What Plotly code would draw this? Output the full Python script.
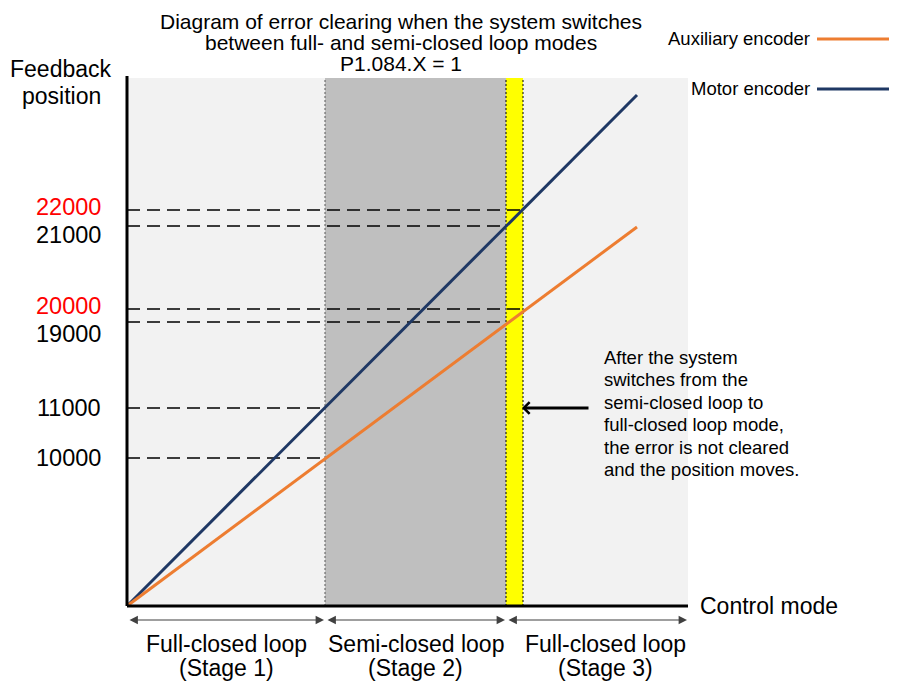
import plotly.graph_objects as go

# ---------------- data (schematic units: x = time, y = feedback position) ----------------
stage_names = ["Full-closed loop", "Semi-closed loop", "Full-closed loop"]
stage_tags = ["(Stage 1)", "(Stage 2)", "(Stage 3)"]
stage_edges = [0, 198, 379, 561]          # switch instants along the control-mode axis
yellow_band = [379, 396]                   # moment after switching back to full-closed loop

motor_x = [0, 510]
motor_y = [0, 511]
aux_x = [0, 510]
aux_y = [0, 379]

tick_text = ["10000", "11000", "19000", "20000", "21000", "22000"]
tick_color = ["black", "black", "black", "red", "black", "red"]
tick_level = [148, 198, 284, 297, 380, 396]      # heights of the guide lines
tick_label_y = [148, 198, 272, 300, 371, 399]    # label heights (spread to avoid overlap)
guide_end_x = [198, 198, 379, 396, 379, 396]

title_lines = ["Diagram of error clearing when the system switches",
               "between full- and semi-closed loop modes",
               "P1.084.X = 1"]
note_lines = ["After the system", "switches from the", "semi-closed loop to",
              "full-closed loop mode,", "the error is not cleared",
              "and the position moves."]

FONT = "Liberation Sans, Arial, Helvetica, sans-serif"
NAVY = "#1F3864"
ORANGE = "#ED7D31"

fig = go.Figure()

shapes = []
# backgrounds
shapes.append(dict(type="rect", x0=stage_edges[0], x1=stage_edges[3], y0=0, y1=528,
                   fillcolor="#F2F2F2", line_width=0, layer="below"))
shapes.append(dict(type="rect", x0=stage_edges[1], x1=stage_edges[2], y0=0, y1=528,
                   fillcolor="#BFBFBF", line_width=0, layer="below"))
shapes.append(dict(type="rect", x0=yellow_band[0], x1=yellow_band[1], y0=0, y1=528,
                   fillcolor="#FFFF00", line_width=0, layer="below"))
# dotted boundaries
shapes.append(dict(type="line", x0=stage_edges[1], x1=stage_edges[1], y0=0, y1=528,
                   line=dict(color="#595959", width=1, dash="2px,2px"), layer="below"))
for xb in yellow_band:
    shapes.append(dict(type="line", x0=xb, x1=xb, y0=0, y1=528,
                       line=dict(color="black", width=1, dash="2px,2px"), layer="below"))
# dashed guides
for lvl, xe in zip(tick_level, guide_end_x):
    shapes.append(dict(type="line", x0=0, x1=xe, y0=lvl, y1=lvl,
                       line=dict(color="black", width=1.5, dash="13px,7px"), layer="below"))
# axes
shapes.append(dict(type="line", x0=0, x1=0, y0=0, y1=530,
                   line=dict(color="black", width=3), layer="above"))
shapes.append(dict(type="line", x0=0, x1=561, y0=0, y1=0,
                   line=dict(color="black", width=3), layer="above"))
# legend line samples
shapes.append(dict(type="line", x0=690, x1=770, y0=567, y1=567,
                   line=dict(color=ORANGE, width=3)))
shapes.append(dict(type="line", x0=690, x1=770, y0=517, y1=517,
                   line=dict(color=NAVY, width=3)))

fig.add_trace(go.Scatter(x=motor_x, y=motor_y, mode="lines", name="Motor encoder",
                         line=dict(color=NAVY, width=3), showlegend=False, hoverinfo="skip"))
fig.add_trace(go.Scatter(x=aux_x, y=aux_y, mode="lines", name="Auxiliary encoder",
                         line=dict(color=ORANGE, width=3), showlegend=False, hoverinfo="skip"))

ann = []
def txt(x, y, s, size, xanchor="center", color="black"):
    ann.append(dict(x=x, y=y, xref="x", yref="y", text=s, showarrow=False,
                    xanchor=xanchor, yanchor="middle",
                    font=dict(family=FONT, size=size, color=color)))

# title
for s, y in zip(title_lines, [585, 563.5, 543]):
    txt(274, y, s, 21)
# y-axis title
txt(-66, 537, "Feedback", 23)
txt(-66, 510, "position", 23)
# tick labels
for s, y, c in zip(tick_text, tick_label_y, tick_color):
    txt(-24, y, s, 23.5, xanchor="right", color=c)
# x-axis title
txt(571, 0, "Control mode", 23, xanchor="left")
# stage labels and arrows
label_left = [stage_edges[0], stage_edges[1], yellow_band[1]]
for i in range(3):
    xc = (label_left[i] + stage_edges[i + 1]) / 2
    txt(xc, -38, stage_names[i], 23)
    txt(xc, -62, stage_tags[i], 23)
    ann.append(dict(x=stage_edges[i + 1] - 1, y=-14, ax=stage_edges[i] + 1, ay=-14,
                    xref="x", yref="y", axref="x", ayref="y", text="",
                    showarrow=True, arrowhead=2, arrowside="end+start",
                    arrowsize=1.4, arrowwidth=1.2, arrowcolor="#404040",
                    standoff=0, startstandoff=0))
# legend texts
txt(685, 567.5, "Auxiliary encoder", 18.5, xanchor="right")
txt(685, 517.5, "Motor encoder", 18.5, xanchor="right")
# note
for i, s in enumerate(note_lines):
    txt(475, 248.6 - 22.5 * i, s, 18.5, xanchor="left")
ann.append(dict(x=395, y=198, ax=463, ay=198, xref="x", yref="y", axref="x", ayref="y",
                text="", showarrow=True, arrowhead=4, arrowsize=0.75, arrowwidth=3,
                arrowcolor="black", standoff=0))

# the page adds an 8 px body margin, so the figure is 8 px smaller and ranges shifted
fig.update_layout(
    width=889, height=678,
    margin=dict(l=0, r=0, t=0, b=0),
    paper_bgcolor="white", plot_bgcolor="white",
    xaxis=dict(range=[-119, 770], visible=False, fixedrange=True),
    yaxis=dict(range=[-80, 598], visible=False, fixedrange=True),
    shapes=shapes, annotations=ann, showlegend=False,
)

fig.write_html("out.html")
